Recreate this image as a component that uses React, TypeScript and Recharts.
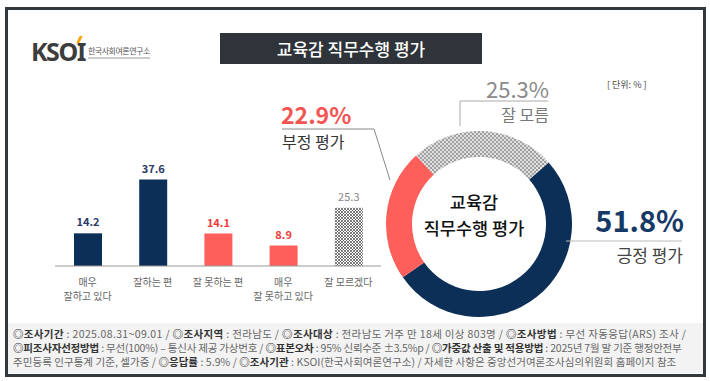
import { BarChart, Bar, XAxis, YAxis, Cell, LabelList, PieChart, Pie } from "recharts";

const barCategories = ["매우\n잘하고 있다", "잘하는 편", "잘 못하는 편", "매우\n잘 못하고 있다", "잘 모르겠다"];
const barValues = [14.2, 37.6, 14.1, 8.9, 25.3];
const barColors = ["#0c2f57", "#0c2f57", "#ff5f5a", "#ff5f5a", "url(#hatch)"];
const barLabelColors = ["#2b3a67", "#2b3a67", "#f03a3a", "#f03a3a", "#888888"];

const pieNames = ["긍정 평가", "부정 평가", "잘 모름"];
const pieValues = [51.8, 22.9, 25.3];
const pieColors = ["#0c2f57", "#ff5f5a", "url(#checker)"];

const barData = barCategories.map((name, i) => ({ name, value: barValues[i] }));
const pieData = pieNames.map((name, i) => ({ name, value: pieValues[i] }));

const FONT = "'Noto Sans CJK KR', 'Noto Sans', sans-serif";

const CategoryTick = (props: any) => {
  const { x, y, payload } = props;
  const lines = String(payload.value).split("\n");
  return (
    <text x={x} y={y + 12} textAnchor="middle" fill="#666" fontSize={10} fontFamily={FONT}>
      {lines.map((l, i) => (
        <tspan key={i} x={x} dy={i === 0 ? 0 : 14}>
          {l}
        </tspan>
      ))}
    </text>
  );
};

const ValueLabel = (props: any) => {
  const { x, y, width, value, index } = props;
  return (
    <text
      x={x + width / 2}
      y={y - 7}
      textAnchor="middle"
      fill={barLabelColors[index]}
      fontSize={11}
      fontWeight={index < 4 ? 700 : 400}
      fontFamily={FONT}
    >
      {value}
    </text>
  );
};

const footerLines = [
  [
    ["◎조사기간", " : 2025.08.31~09.01 / "],
    ["◎조사지역", " : 전라남도 / "],
    ["◎조사대상", " : 전라남도 거주 만 18세 이상 803명 / "],
    ["◎조사방법", " : 무선 자동응답(ARS) 조사 /"],
  ],
  [
    ["◎피조사자선정방법", " : 무선(100%) – 통신사 제공 가상번호 / "],
    ["◎표본오차", " : 95% 신뢰수준 ±3.5%p / "],
    ["◎가중값 산출 및 적용방법", " : 2025년 7월 말 기준 행정안전부"],
  ],
  [
    ["", "주민등록 인구통계 기준, 셀가중 / "],
    ["◎응답률", " : 5.9% / "],
    ["◎조사기관", " : KSOI(한국사회여론연구소) / 자세한 사항은 중앙선거여론조사심의위원회 홈페이지 참조"],
  ],
];
const footerSpacing = [0.35, -0.2, 0.05];

export default function App() {
  return (
    <div style={{ position: "absolute", left: 0, top: 0, width: 710, height: 381, background: "#fff", fontFamily: FONT }}>
      <div
        style={{
          position: "absolute",
          left: 5,
          top: 7,
          width: 701,
          height: 370,
          border: "3px solid #33383d",
          boxSizing: "border-box",
          background: "#fff",
        }}
      />

      {/* logo */}
      <div style={{ position: "absolute", left: 31, top: 36, fontSize: 25, fontWeight: 700, color: "#3d3d3d", fontFamily: "'Noto Sans', sans-serif", letterSpacing: -1.5, lineHeight: "30px" }}>
        KSOI
      </div>
      <div style={{ position: "absolute", left: 78, top: 36, width: 3, height: 7, background: "#f5a300", transform: "skewX(-25deg)" }} />
      <div style={{ position: "absolute", left: 88, top: 46, fontSize: 8, color: "#555", letterSpacing: -0.5, lineHeight: "10px", borderBottom: "2px solid #ccc", paddingBottom: 1 }}>
        한국사회여론연구소
      </div>

      {/* title */}
      <div
        style={{
          position: "absolute",
          left: 220,
          top: 33,
          width: 262,
          height: 31,
          background: "#2e3439",
          color: "#fff",
          fontSize: 17,
          fontWeight: 500,
          display: "flex",
          alignItems: "center",
          justifyContent: "center",
        }}
      >
        교육감 직무수행 평가
      </div>

      {/* bar chart */}
      <div style={{ position: "absolute", left: 0, top: 140 }}>
        <BarChart width={400} height={170} data={barData} margin={{ top: 11, right: 19, left: 55, bottom: 0 }}>
          <defs>
            <pattern id="hatch" width="3" height="3" patternUnits="userSpaceOnUse">
              <rect width="3" height="3" fill="#fff" />
              <path d="M0,0 L3,3 M3,0 L0,3" stroke="#444" strokeWidth={0.7} />
            </pattern>
          </defs>
          <XAxis dataKey="name" interval={0} height={44} tickLine={false} axisLine={{ stroke: "#999" }} tick={<CategoryTick />} />
          <YAxis hide domain={[0, 50]} />
          <Bar dataKey="value" barSize={28} isAnimationActive={false}>
            {barData.map((_, i) => (
              <Cell key={i} fill={barColors[i]} />
            ))}
            <LabelList dataKey="value" content={<ValueLabel />} />
          </Bar>
        </BarChart>
      </div>

      {/* donut */}
      <div style={{ position: "absolute", left: 374, top: 119 }}>
        <PieChart width={200} height={200}>
          <defs>
            <pattern id="checker" width="4" height="4" patternUnits="userSpaceOnUse">
              <rect width="4" height="4" fill="#e0e0e0" />
              <rect width="2" height="2" fill="#a0a0a0" />
              <rect x="2" y="2" width="2" height="2" fill="#a0a0a0" />
            </pattern>
          </defs>
          <Pie
            data={pieData}
            dataKey="value"
            cx={100}
            cy={100}
            innerRadius={67}
            outerRadius={93}
            startAngle={41.5}
            endAngle={-318.5}
            stroke="none"
            isAnimationActive={false}
          >
            {pieData.map((_, i) => (
              <Cell key={i} fill={pieColors[i]} />
            ))}
          </Pie>
        </PieChart>
      </div>

      <div style={{ position: "absolute", left: 414, top: 193, width: 120, textAlign: "center", fontSize: 17.5, lineHeight: "18px", color: "#111", fontWeight: 500 }}>
        교육감
      </div>
      <div style={{ position: "absolute", left: 404, top: 219, width: 140, textAlign: "center", fontSize: 17.5, lineHeight: "18px", color: "#111", fontWeight: 500 }}>
        직무수행 평가
      </div>

      {/* leader lines */}
      <svg style={{ position: "absolute", left: 0, top: 0 }} width={710} height={381}>
        <polyline points="460,126 460,101 548,101" fill="none" stroke="#aaa" strokeWidth={1} />
        <polyline points="282,129 374,129 390,180" fill="none" stroke="#888" strokeWidth={1} />
        <line x1={566} y1={241} x2={682} y2={241} stroke="#bbb" strokeWidth={1} />
      </svg>

      <div style={{ position: "absolute", left: 400, width: 149, top: 78, textAlign: "right", fontSize: 22, color: "#8a8a8a", lineHeight: "21px" }}>
        25.3%
      </div>
      <div style={{ position: "absolute", left: 400, width: 149, top: 106, textAlign: "right", fontSize: 16, color: "#777", lineHeight: "16px" }}>
        잘 모름
      </div>

      <div style={{ position: "absolute", left: 281, top: 102, fontSize: 23, fontWeight: 700, color: "#f25552", lineHeight: "25px" }}>
        22.9%
      </div>
      <div style={{ position: "absolute", left: 282, top: 132, fontSize: 16, color: "#333", lineHeight: "18px" }}>
        부정 평가
      </div>

      <div style={{ position: "absolute", left: 560, width: 124, top: 203, textAlign: "right", fontSize: 29, fontWeight: 700, color: "#163a66", lineHeight: "32px" }}>
        51.8%
      </div>
      <div style={{ position: "absolute", left: 560, width: 123, top: 245, textAlign: "right", fontSize: 17, color: "#444", lineHeight: "20px" }}>
        긍정 평가
      </div>

      <div style={{ position: "absolute", left: 607, top: 78, fontSize: 9, color: "#444", whiteSpace: "pre" }}>[ 단위: % ]</div>

      {/* footer */}
      <div style={{ position: "absolute", left: 8, top: 323, width: 695, height: 50, background: "#f3f3f3" }} />
      <div style={{ position: "absolute", left: 13, top: 327, fontSize: 10.5, lineHeight: "14px", color: "#666", whiteSpace: "pre" }}>
        {footerLines.map((line, i) => (
          <div key={i} style={{ letterSpacing: footerSpacing[i] }}>
            {line.map(([b, t], j) => (
              <span key={j}>
                {b && <span style={{ fontWeight: 700, color: "#333" }}>{b}</span>}
                {t}
              </span>
            ))}
          </div>
        ))}
      </div>
    </div>
  );
}
